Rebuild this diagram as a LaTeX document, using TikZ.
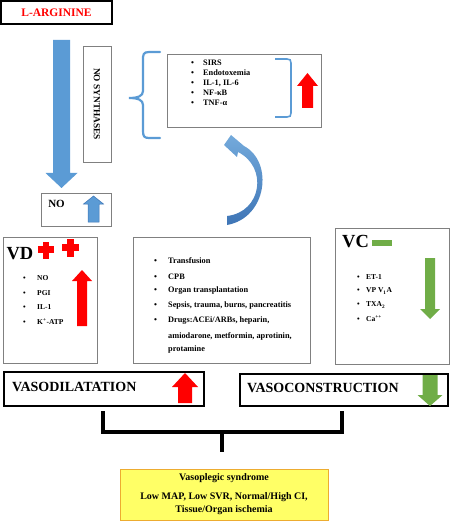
\documentclass[tikz,border=0pt]{standalone}
\usepackage{fontspec}
\setmainfont{Liberation Serif}

\definecolor{blueA}{RGB}{91,155,213}
\definecolor{blueD}{RGB}{62,117,182}
\definecolor{redA}{RGB}{255,0,0}
\definecolor{greenA}{RGB}{112,173,71}
\definecolor{yellowA}{RGB}{255,255,102}
\definecolor{orangeA}{RGB}{237,172,48}
\definecolor{grayline}{RGB}{128,128,128}

\newcommand{\listdot}[1]{\makebox[#1][l]{\textbullet}}
% block arrow: colour, centre x, shaft half width, head half width, tail y, head base y, tip y
\newcommand{\vblockarrow}[7]{%
  \fill[#1] ({#2-#3},#5) -- ({#2-#3},#6) -- ({#2-#4},#6) -- (#2,#7) -- ({#2+#4},#6) -- ({#2+#3},#6) -- ({#2+#3},#5) -- cycle;}

\tikzset{
  box/.style={draw=grayline, line width=0.8pt, inner sep=0pt},
  darkbox/.style={draw=black, line width=1.2pt, inner sep=0pt},
  item/.style={anchor=west, inner sep=0pt, font=\bfseries\fontsize{8.3}{10}\selectfont},
  smallitem/.style={anchor=west, inner sep=0pt, font=\bfseries\fontsize{7.5}{9}\selectfont},
  biglabel/.style={inner sep=0pt, font=\bfseries\fontsize{18.5}{20}\selectfont},
  heading/.style={anchor=west, inner sep=0pt, font=\bfseries\fontsize{14}{16}\selectfont},
  bluecurve/.style={draw=blueA, line width=2.2pt, line cap=round},
  joinline/.style={draw=black, line width=3.4pt},
}

\begin{document}
\begin{tikzpicture}[x=1pt, y=-1pt]
\useasboundingbox (0,0) rectangle (450,521);

\node [darkbox, minimum width=111pt, minimum height=23pt, text=redA, font=\bfseries\fontsize{11.5}{12}\selectfont] (arg) at (56.5,12.5) {L-ARGININE};
\node [box, rotate=-90, minimum width=116pt, minimum height=28pt, font=\bfseries\fontsize{9.3}{10}\selectfont] (nos) at (97,104) {NO SYNTHASES};
\vblockarrow{blueA}{61.5}{8.5}{16}{40}{173}{188}

\node [box, minimum width=70pt, minimum height=33pt] (nobox) at (76,209.5) {};
\node [inner sep=0pt, font=\bfseries\fontsize{11}{12}\selectfont] (nolbl) at (56.5,203.5) {NO};
\vblockarrow{fill=blueA, draw=blueD, line width=0.5pt}{93.5}{5.5}{10}{222}{204}{196}

% brace and inflammation box
\draw [bluecurve] (160,52) -- (149,52) .. controls (143,52) and (143,55) .. (143,60) -- (143,91) .. controls (143,96) and (138,98) .. (129,98) .. controls (138,98) and (143,100) .. (143,105) -- (143,131) .. controls (143,136) and (144,138) .. (149,138) -- (160,138);
\node [box, minimum width=154pt, minimum height=73pt] (sirs) at (244,90.5) {};
\node [item] (s1) at (191,63) {\listdot{12pt}SIRS};
\node [item] (s2) at (191,73) {\listdot{12pt}Endotoxemia};
\node [item] (s3) at (191,83) {\listdot{12pt}IL-1, IL-6};
\node [item] (s4) at (191,93) {\listdot{12pt}NF-κB};
\node [item] (s5) at (191,103) {\listdot{12pt}TNF-α};
\draw [draw=blueA, line width=1.6pt] (275,59) -- (287,59) .. controls (290,59) and (291,60) .. (291,63) -- (291,113) .. controls (291,116) and (290,117) .. (287,117) -- (275,117);
\vblockarrow{redA}{307.5}{5.5}{10.5}{108}{86}{73}

% curved arrow
\path [top color=blueA!85!white, bottom color=blueD] (227,225) .. controls (267,218) and (274,162) .. (244,146) -- (231,135) -- (224,145) -- (237,157) -- (238,152) .. controls (268,167) and (262,212) .. (227,216) -- cycle;

% vasodilators
\node [box, minimum width=94pt, minimum height=126pt] (vd) at (50,300) {};
\node [biglabel] (vdlbl) at (20,254) {VD};
\fill [redA] (38,246) rectangle (53.5,253);
\fill [redA] (42.5,241.5) rectangle (49,259);
\fill [redA] (61.5,243.5) rectangle (79,250.5);
\fill [redA] (66.5,239) rectangle (74,257);
\node [smallitem] (d1) at (23,278) {\listdot{14pt}NO};
\node [smallitem] (d2) at (23,293) {\listdot{14pt}PGI};
\node [smallitem] (d3) at (23,307) {\listdot{14pt}IL-1};
\node [smallitem] (d4) at (23,322) {\listdot{14pt}K\textsuperscript{+}-ATP};
\vblockarrow{redA}{82}{5}{10}{326}{281}{270}

% causes
\node [box, minimum width=177pt, minimum height=126pt] (causes) at (221.5,300) {};
\node [item] (c1) at (154,261) {\listdot{14pt}Transfusion};
\node [item] (c2) at (154,277) {\listdot{14pt}CPB};
\node [item] (c3) at (154,291) {\listdot{14pt}Organ transplantation};
\node [item] (c4) at (154,306) {\listdot{14pt}Sepsis, trauma, burns, pancreatitis};
\node [item] (c5) at (154,321) {\listdot{14pt}Drugs:ACEi/ARBs, heparin,};
\node [item] (c6) at (168,336) {amiodarone, metformin, aprotinin,};
\node [item] (c7) at (168,350) {protamine};

% vasoconstrictors
\node [box, minimum width=114pt, minimum height=136pt] (vc) at (392,296) {};
\node [biglabel] (vclbl) at (355.5,242) {VC};
\fill [greenA] (372,240) rectangle (392,246);
\node [smallitem] (k1) at (357,277) {\listdot{9pt}ET-1};
\node [smallitem] (k2) at (357,291) {\listdot{9pt}VP V\textsubscript{1}A};
\node [smallitem] (k3) at (357,305) {\listdot{9pt}TXA\textsubscript{2}};
\node [smallitem] (k4) at (357,319) {\listdot{9pt}Ca\textsuperscript{++}};
\vblockarrow{greenA}{430}{5}{10}{258}{309}{319}

% outcome
\node [darkbox, minimum width=200pt, minimum height=34pt] (vdil) at (104,389) {};
\node [heading] (vdiltxt) at (12,387) {VASODILATATION};
\vblockarrow{redA}{185}{7}{13}{403}{387}{373}
\node [darkbox, minimum width=208pt, minimum height=32pt] (vcon) at (344,390) {};
\node [heading] (vcontxt) at (247,388) {VASOCONSTRUCTION};
\vblockarrow{greenA}{430}{7.5}{12.5}{375}{395}{406}

\coordinate (b1) at (103,411);
\coordinate (b2) at (103,432);
\coordinate (b3) at (342,432);
\coordinate (b4) at (342,411);
\coordinate (b5) at (222,432);
\coordinate (b6) at (222,452);
\draw [joinline] (b1) -- (b2) -- (b3) -- (b4);
\draw [joinline] (b5) -- (b6);

\node [draw=orangeA, fill=yellowA, line width=1pt, minimum width=208pt, minimum height=51pt, align=center, font=\bfseries\fontsize{10}{13}\selectfont] (vps) at (224,494.5) {Vasoplegic syndrome\\[6pt]Low MAP, Low SVR, Normal/High CI,\\Tissue/Organ ischemia};

\end{tikzpicture}
\end{document}
